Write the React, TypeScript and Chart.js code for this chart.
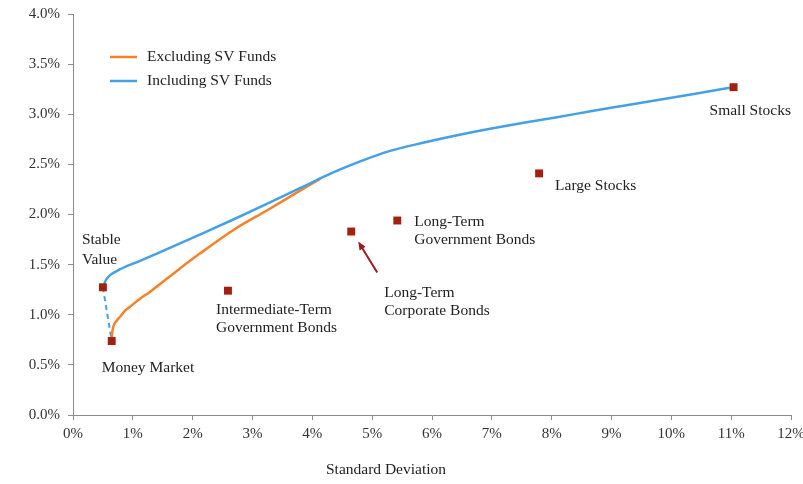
import React, { useEffect, useRef } from "react";
import { Chart, registerables } from "chart.js";

Chart.register(...registerables);

// ---- Data ----
const assetNames = [
  "Stable Value",
  "Money Market",
  "Intermediate-Term Government Bonds",
  "Long-Term Corporate Bonds",
  "Long-Term Government Bonds",
  "Large Stocks",
  "Small Stocks",
];
const assetRisk = [0.5, 0.647, 2.59, 4.65, 5.42, 7.79, 11.04];
const assetReturn = [1.274, 0.738, 1.24, 1.83, 1.94, 2.41, 3.27];

const exclRisk = [0.647, 0.652, 0.674, 0.73, 0.786, 0.87, 0.953, 1.12, 1.29, 1.74, 2.12, 2.72, 3.24, 3.8, 4.13];
const exclReturn = [0.738, 0.8, 0.88, 0.94, 0.98, 1.04, 1.08, 1.16, 1.23, 1.44, 1.61, 1.86, 2.04, 2.24, 2.355];

const inclRisk = [0.5, 0.53, 0.56, 0.62, 0.79, 1.12, 1.4, 2.12, 2.68, 3.24, 3.8, 4.35, 4.8, 5.3, 5.85, 6.42, 6.97, 7.53, 8.09, 8.65, 9.2, 9.8, 10.4, 11.04];
const inclReturn = [1.274, 1.32, 1.355, 1.395, 1.455, 1.538, 1.61, 1.8, 1.95, 2.105, 2.265, 2.42, 2.53, 2.635, 2.715, 2.79, 2.855, 2.915, 2.97, 3.03, 3.085, 3.145, 3.205, 3.27];

const svLinkRisk = [0.5, 0.647];
const svLinkReturn = [1.274, 0.738];

const seriesNames = ["Excluding SV Funds", "Including SV Funds"];
const xTickStep = 1;
const yTickStep = 0.5;
const xTitle = "Standard Deviation";

// ---- Styles / label placement (pixel offsets from points) ----
const FONT = "'Liberation Serif', 'Times New Roman', serif";
const ORANGE = "#F5822A";
const BLUE = "#46A0E6";
const MARKER = "#A3200F";
const AXIS = "#8c8c8c";

const labelLayout = [
  { lines: ["Stable", "Value"], dx: -21, dy: -47, lh: 20 },
  { lines: ["Money Market"], dx: -10, dy: 27, lh: 19 },
  { lines: ["Intermediate-Term", "Government Bonds"], dx: -12, dy: 19, lh: 18 },
  { lines: ["Long-Term", "Corporate Bonds"], dx: 33, dy: 61, lh: 18 },
  { lines: ["Long-Term", "Government Bonds"], dx: 17, dy: 1, lh: 18 },
  { lines: ["Large Stocks"], dx: 16, dy: 13, lh: 18 },
  { lines: ["Small Stocks"], dx: -24, dy: 24, lh: 18 },
];

const annotPlugin = {
  id: "annot",
  afterDatasetsDraw(chart: any) {
    const { ctx, scales } = chart;
    const xs = scales.x;
    const ys = scales.y;
    ctx.save();
    ctx.font = `15.5px ${FONT}`;
    ctx.fillStyle = "#222";
    ctx.textBaseline = "middle";
    ctx.textAlign = "left";
    assetNames.forEach((_, i) => {
      const px = xs.getPixelForValue(assetRisk[i]);
      const py = ys.getPixelForValue(assetReturn[i]);
      const l = labelLayout[i];
      l.lines.forEach((t, k) => {
        ctx.fillText(t, px + l.dx, py + l.dy + k * l.lh);
      });
    });
    // arrow to Long-Term Corporate Bonds
    const ax = xs.getPixelForValue(assetRisk[3]);
    const ay = ys.getPixelForValue(assetReturn[3]);
    const x1 = ax + 26, y1 = ay + 41, x2 = ax + 7, y2 = ay + 10;
    ctx.strokeStyle = "#9B1C1C";
    ctx.fillStyle = "#9B1C1C";
    ctx.lineWidth = 2;
    ctx.beginPath();
    ctx.moveTo(x1, y1);
    ctx.lineTo(x2 + (x1 - x2) * 0.2, y2 + (y1 - y2) * 0.2);
    ctx.stroke();
    const ang = Math.atan2(y2 - y1, x2 - x1);
    const hl = 9;
    ctx.beginPath();
    ctx.moveTo(x2, y2);
    ctx.lineTo(x2 - hl * Math.cos(ang - 0.4), y2 - hl * Math.sin(ang - 0.4));
    ctx.lineTo(x2 - hl * Math.cos(ang + 0.4), y2 - hl * Math.sin(ang + 0.4));
    ctx.closePath();
    ctx.fill();

    // legend
    const legendColors = [ORANGE, BLUE];
    ctx.fillStyle = "#222";
    seriesNames.forEach((n, i) => {
      const y = 57 + i * 24;
      ctx.strokeStyle = legendColors[i];
      ctx.lineWidth = 2.5;
      ctx.beginPath();
      ctx.moveTo(110, y);
      ctx.lineTo(137, y);
      ctx.stroke();
      ctx.fillText(n, 147, y);
    });

    // x axis title
    ctx.textAlign = "center";
    ctx.fillText(xTitle, 386, 470);
    ctx.restore();
  },
};

export default function App() {
  const ref = useRef<HTMLCanvasElement | null>(null);
  useEffect(() => {
    document.body.style.margin = "0";
    const canvas = ref.current!;
    const pts = (xs: number[], ys: number[]) => xs.map((x, i) => ({ x, y: ys[i] }));
    const chart = new Chart(canvas, {
      type: "scatter",
      data: {
        datasets: [
          {
            label: "Assets",
            data: pts(assetRisk, assetReturn),
            pointStyle: "rect",
            pointRadius: 5.6,
            pointHoverRadius: 5.6,
            backgroundColor: MARKER,
            borderColor: MARKER,
            borderWidth: 0,
            showLine: false,
          },
          {
            label: seriesNames[1],
            data: pts(inclRisk, inclReturn),
            showLine: true,
            borderColor: BLUE,
            borderWidth: 2.5,
            pointRadius: 0,
            cubicInterpolationMode: "monotone",
          },
          {
            label: seriesNames[0],
            data: pts(exclRisk, exclReturn),
            showLine: true,
            borderColor: ORANGE,
            borderWidth: 2.5,
            pointRadius: 0,
            cubicInterpolationMode: "monotone",
          },
          {
            label: "link",
            data: pts(svLinkRisk, svLinkReturn),
            showLine: true,
            borderColor: BLUE,
            borderWidth: 2,
            borderDash: [5, 4],
            pointRadius: 0,
          },
        ],
      },
      options: {
        responsive: false,
        animation: false,
        devicePixelRatio: 1,
        layout: { padding: { top: 14, right: 12, left: 0, bottom: 0 } },
        plugins: { legend: { display: false }, tooltip: { enabled: false } },
        scales: {
          x: {
            type: "linear",
            min: 0,
            max: 12,
            ticks: {
              stepSize: xTickStep,
              callback: (v: any) => `${v}%`,
              font: { family: FONT, size: 15 },
              color: "#333",
              padding: 5,
              maxRotation: 0,
            },
            grid: { drawOnChartArea: false, drawTicks: true, tickLength: 5, color: AXIS },
            border: { color: AXIS, width: 1 },
            afterFit: (s: any) => {
              s.height = 69;
              s.paddingLeft = 0;
              s.paddingRight = 0;
            },
          },
          y: {
            type: "linear",
            min: 0,
            max: 4,
            ticks: {
              stepSize: yTickStep,
              callback: (v: any) => `${Number(v).toFixed(1)}%`,
              font: { family: FONT, size: 15 },
              color: "#333",
              padding: 8,
            },
            grid: { drawOnChartArea: false, drawTicks: true, tickLength: 5, color: AXIS },
            border: { color: AXIS, width: 1 },
            afterFit: (s: any) => {
              s.width = 73;
              s.paddingTop = 0;
              s.paddingBottom = 0;
            },
          },
        },
      },
      plugins: [annotPlugin],
    } as any);
    return () => chart.destroy();
  }, []);
  return <canvas ref={ref} width={803} height={484} style={{ display: "block" }} />;
}
